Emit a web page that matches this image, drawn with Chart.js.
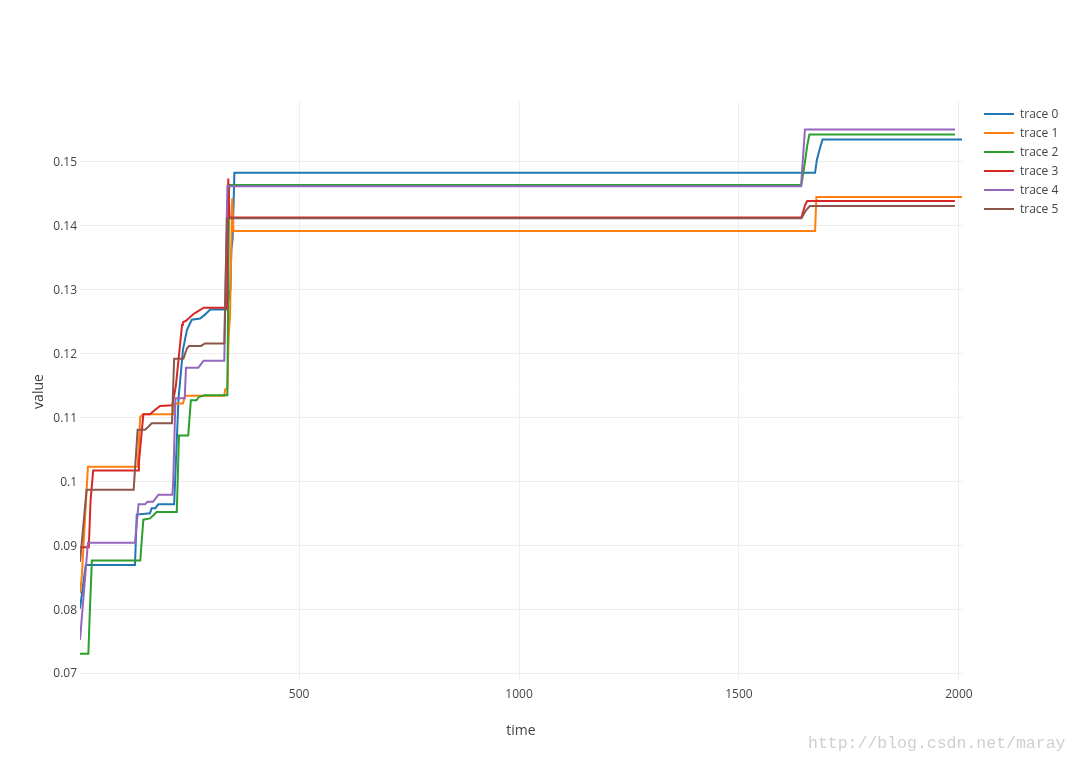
<!DOCTYPE html>
<html>
<head>
<meta charset="utf-8">
<script src="https://cdn.jsdelivr.net/npm/chart.js@4.4.1/dist/chart.umd.min.js"></script>
<style>
  html, body { margin: 0; padding: 0; background: #fff; }
  #wrap { width: 1076px; height: 763px; }
</style>
</head>
<body>
<div id="wrap"><canvas id="myChart" width="1076" height="763"></canvas></div>
<script>
// trace names and plotly default colours
const traceNames = ['trace 0', 'trace 1', 'trace 2', 'trace 3', 'trace 4', 'trace 5'];
const traceColors = ['#1f77b4', '#ff7f0e', '#2ca02c', '#d62728', '#9467bd', '#8c564b'];

// tick values and labels
const xTicks = [500, 1000, 1500, 2000];
const xTickLabels = ['500', '1000', '1500', '2000'];
const yTicks = [0.07, 0.08, 0.09, 0.1, 0.11, 0.12, 0.13, 0.14, 0.15];
const yTickLabels = ['0.07', '0.08', '0.09', '0.1', '0.11', '0.12', '0.13', '0.14', '0.15'];

// trace 0
const t0x = [2, 15, 127, 131, 161, 165, 173, 180, 216, 226, 236, 245, 256, 275, 286, 298, 336, 344, 346, 349, 353, 1673, 1677, 1685, 1690, 2007];
const t0y = [0.0801, 0.0869, 0.0869, 0.0948, 0.0950, 0.0958, 0.0958, 0.0964, 0.0964, 0.1130, 0.1206, 0.1237, 0.1253, 0.1255, 0.1261, 0.1269, 0.1269, 0.1300, 0.1362, 0.1380, 0.1483, 0.1483, 0.1503, 0.1524, 0.1535, 0.1535];
// trace 1
const t1x = [2, 6, 20, 133, 139, 146, 214, 216, 236, 241, 330, 332, 337, 340, 343, 348, 351, 1673, 1676, 2007];
const t1y = [0.0825, 0.0850, 0.1023, 0.1023, 0.1101, 0.1105, 0.1105, 0.1122, 0.1122, 0.1134, 0.1134, 0.1144, 0.1146, 0.1229, 0.1258, 0.1443, 0.1392, 0.1392, 0.1445, 0.1445];
// trace 2
const t2x = [2, 21, 24, 29, 139, 146, 161, 169, 176, 222, 227, 248, 254, 267, 272, 286, 337, 341, 1642, 1650, 1655, 1660, 1991];
const t2y = [0.0730, 0.0730, 0.0790, 0.0876, 0.0876, 0.0940, 0.0942, 0.0947, 0.0952, 0.0952, 0.1072, 0.1072, 0.1127, 0.1127, 0.1132, 0.1135, 0.1135, 0.1464, 0.1464, 0.1500, 0.1525, 0.1543, 0.1543];
// trace 3
const t3x = [2, 22, 26, 32, 134, 136, 146, 161, 173, 184, 212, 220, 234, 236, 244, 260, 267, 283, 336, 339, 342, 1642, 1650, 1655, 1991];
const t3y = [0.0897, 0.0897, 0.0970, 0.1017, 0.1017, 0.1030, 0.1105, 0.1105, 0.1112, 0.1118, 0.1119, 0.1150, 0.1245, 0.1249, 0.1252, 0.1262, 0.1265, 0.1272, 0.1272, 0.1474, 0.1413, 0.1413, 0.1432, 0.1439, 0.1439];
// trace 4
const t4x = [2, 4, 20, 127, 135, 150, 155, 168, 177, 180, 212, 214, 219, 240, 243, 271, 283, 330, 337, 1641, 1650, 1991];
const t4y = [0.0752, 0.0752, 0.0904, 0.0904, 0.0964, 0.0964, 0.0968, 0.0968, 0.0976, 0.0979, 0.0979, 0.1000, 0.1130, 0.1130, 0.1178, 0.1178, 0.1189, 0.1189, 0.1462, 0.1462, 0.1551, 0.1551];
// trace 5
const t5x = [2, 4, 17, 124, 133, 150, 158, 165, 211, 216, 237, 245, 250, 277, 286, 330, 336, 1642, 1652, 1661, 1991];
const t5y = [0.0874, 0.0874, 0.0987, 0.0987, 0.1081, 0.1081, 0.1086, 0.1091, 0.1091, 0.1192, 0.1192, 0.1208, 0.1212, 0.1212, 0.1216, 0.1216, 0.1412, 0.1412, 0.1424, 0.1431, 0.1431];

const allX = [t0x, t1x, t2x, t3x, t4x, t5x];
const allY = [t0y, t1y, t2y, t3y, t4y, t5y];

const font = "'Open Sans', 'DejaVu Sans', sans-serif";

// legend and watermark drawn by hand at plotly positions
const legendPlugin = {
  id: 'plotlyLegend',
  afterDraw(c) {
    const ctx = c.ctx;
    ctx.save();
    c.data.datasets.forEach((ds, i) => {
      const y = 114 + i * 19;
      ctx.strokeStyle = ds.borderColor;
      ctx.lineWidth = 2;
      ctx.beginPath();
      ctx.moveTo(984, y);
      ctx.lineTo(1014, y);
      ctx.stroke();
      ctx.fillStyle = '#444';
      ctx.font = '12px ' + font;
      ctx.textBaseline = 'middle';
      ctx.textAlign = 'left';
      ctx.fillText(ds.label, 1020, y + 1);
    });
    ctx.font = "16.5px 'Liberation Mono', monospace";
    ctx.fillStyle = '#cfcfcf';
    ctx.textBaseline = 'middle';
    ctx.fillText('http://blog.csdn.net/maray', 808, 744);
    ctx.restore();
  }
};

const chart = document.getElementById('myChart');
const myChart = new Chart(chart, {
  type: 'line',
  data: {
    datasets: traceNames.map((name, i) => ({
      label: name,
      data: allX[i].map((x, j) => ({x: x, y: allY[i][j]})),
      borderColor: traceColors[i],
      backgroundColor: traceColors[i],
      borderWidth: 2,
      pointRadius: 0,
      tension: 0,
      fill: false,
      order: 5 - i
    }))
  },
  options: {
    responsive: false,
    animation: false,
    layout: { padding: { top: 102, right: 114, left: 0, bottom: 0 } },
    plugins: {
      legend: { display: false },
      tooltip: { enabled: false }
    },
    scales: {
      x: {
        type: 'linear',
        min: 2,
        max: 2007,
        afterFit: s => { s.height = 82; },
        afterBuildTicks: s => { s.ticks = xTicks.map(v => ({value: v})); },
        grid: { color: '#eeeeee', drawTicks: false },
        border: { display: false },
        ticks: {
          color: '#444', font: { family: font, size: 12 }, padding: 6, maxRotation: 0, autoSkip: false,
          callback: (v, i) => xTickLabels[i]
        },
        title: { display: true, text: 'time', color: '#444', font: { family: font, size: 14 }, padding: { top: 0, bottom: 24 } }
      },
      y: {
        type: 'linear',
        min: 0.06875,
        max: 0.15939,
        afterFit: s => { s.width = 80; },
        afterBuildTicks: s => { s.ticks = yTicks.map(v => ({value: v})); },
        grid: { color: '#eeeeee', drawTicks: false },
        border: { display: false },
        ticks: {
          color: '#444', font: { family: font, size: 12 }, padding: 3, autoSkip: false,
          labelOffset: 1,
          callback: (v, i) => yTickLabels[i]
        },
        title: { display: true, text: 'value', color: '#444', font: { family: font, size: 14 }, padding: { top: 31, bottom: 0 } }
      }
    }
  },
  plugins: [legendPlugin]
});
</script>
</body>
</html>
